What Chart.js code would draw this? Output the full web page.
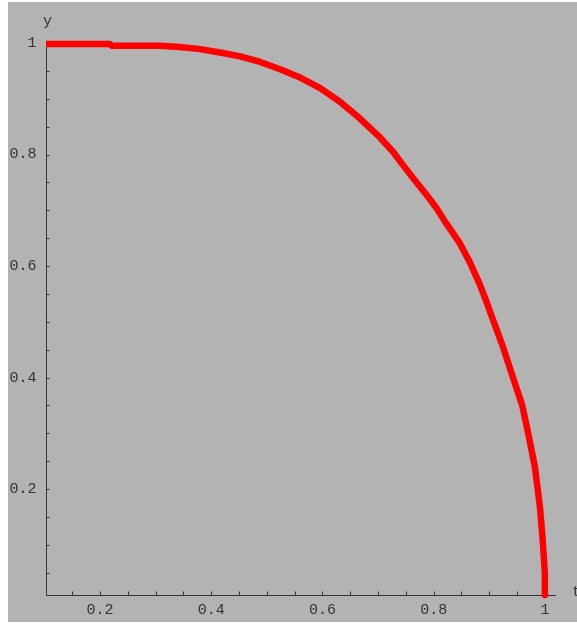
<!DOCTYPE html>
<html>
<head>
<meta charset="utf-8">
<script src="https://cdn.jsdelivr.net/npm/chart.js@4/dist/chart.umd.min.js"></script>
<style>
	html, body { margin: 0; padding: 0; background: #ffffff; }
	#wrap { width: 577px; height: 623px; }
</style>
</head>
<body>
<div id="wrap"><canvas id="myChart" width="577" height="623"></canvas></div>
<script>
// curve
const tValues = [0.103, 0.218, 0.222, 0.308, 0.344, 0.380, 0.416, 0.452, 0.488, 0.524, 0.560, 0.596, 0.631, 0.667,
	0.703, 0.727, 0.745, 0.763, 0.787, 0.805, 0.823, 0.847, 0.865, 0.883, 0.895, 0.901, 0.924, 0.942, 0.959,
	0.969, 0.982, 0.991, 0.996, 1.000, 1.000];
const yValues = [0.998, 0.998, 0.995, 0.995, 0.993, 0.989, 0.983, 0.976, 0.966, 0.953, 0.938, 0.919, 0.895, 0.865,
	0.831, 0.805, 0.781, 0.758, 0.728, 0.704, 0.676, 0.641, 0.607, 0.567, 0.536, 0.519, 0.457, 0.402, 0.351,
	0.305, 0.240, 0.169, 0.110, 0.049, 0.010];

const xTickLabels = ["0.2", "0.4", "0.6", "0.8", "1"];
const yTickLabels = ["0.2", "0.4", "0.6", "0.8", "1"];
const xMinorTicks = [0.15, 0.25, 0.3, 0.35, 0.45, 0.5, 0.55, 0.65, 0.7, 0.75, 0.85, 0.9, 0.95];
const yMinorTicks = [0.05, 0.1, 0.15, 0.25, 0.3, 0.35, 0.45, 0.5, 0.55, 0.65, 0.7, 0.75, 0.85, 0.9, 0.95];

const textColor = "#333333";
const font = "15px 'Liberation Mono', 'DejaVu Sans Mono', monospace";

const axesPlugin = {
	id: "axes",
	beforeDraw(chart) {
		const ctx = chart.ctx;
		ctx.save();
		ctx.fillStyle = "#ffffff";
		ctx.fillRect(0, 0, chart.width, chart.height);
		ctx.fillStyle = "#b3b3b3";
		ctx.fillRect(8, 2, chart.width - 8, chart.height - 3);
		ctx.restore();
	},
	beforeDatasetsDraw(chart) {
		const { ctx, chartArea, scales } = chart;
		const x = scales.x;
		const y = scales.y;
		const ax = Math.round(chartArea.left) + 0.5;
		const ay = Math.round(chartArea.bottom) + 0.5;
		ctx.save();
		ctx.strokeStyle = "#333333";
		ctx.lineWidth = 1;
		ctx.beginPath();
		ctx.moveTo(ax, chartArea.top);
		ctx.lineTo(ax, ay);
		ctx.lineTo(chartArea.right, ay);
		ctx.stroke();

		// ticks point inward
		ctx.beginPath();
		const xTicks = xMinorTicks.concat(xTickLabels.map(Number));
		for (const v of xTicks) {
			const px = Math.round(x.getPixelForValue(v)) + 0.5;
			ctx.moveTo(px, ay);
			ctx.lineTo(px, ay - 4);
		}
		const yTicks = yMinorTicks.concat(yTickLabels.map(Number));
		for (const v of yTicks) {
			const py = Math.round(y.getPixelForValue(v)) + 0.5;
			ctx.moveTo(ax, py);
			ctx.lineTo(ax + 3, py);
		}
		ctx.stroke();

		ctx.fillStyle = textColor;
		ctx.font = font;
		ctx.textAlign = "center";
		ctx.textBaseline = "middle";
		for (const label of xTickLabels) {
			ctx.fillText(label, x.getPixelForValue(Number(label)), ay + 15);
		}
		ctx.textAlign = "right";
		for (const label of yTickLabels) {
			ctx.fillText(label, ax - 10, y.getPixelForValue(Number(label)));
		}
		ctx.textAlign = "center";
		ctx.fillText("y", ax + 1, 21);
		ctx.textAlign = "left";
		ctx.fillText("t", chartArea.right + 16, ay - 3);
		ctx.restore();
	},
};

const chart = new Chart(document.getElementById("myChart"), {
	type: "scatter",
	data: {
		datasets: [
			{
				data: tValues.map((t, i) => ({ x: t, y: yValues[i] })),
				showLine: true,
				borderColor: "#ff0000",
				backgroundColor: "#ff0000",
				borderWidth: 6.5,
				borderJoinStyle: "round",
				pointRadius: 0,
				tension: 0,
				fill: false,
				clip: false,
			},
		],
	},
	options: {
		responsive: false,
		animation: false,
		devicePixelRatio: 1,
		layout: {
			padding: { left: 46, right: 21, top: 43, bottom: 28 },
		},
		plugins: {
			legend: { display: false },
			tooltip: { enabled: false },
		},
		scales: {
			x: { type: "linear", min: 0.103, max: 1.02, display: false },
			y: { type: "linear", min: 0.01, max: 1.0, display: false },
		},
	},
	plugins: [axesPlugin],
});
</script>
</body>
</html>
